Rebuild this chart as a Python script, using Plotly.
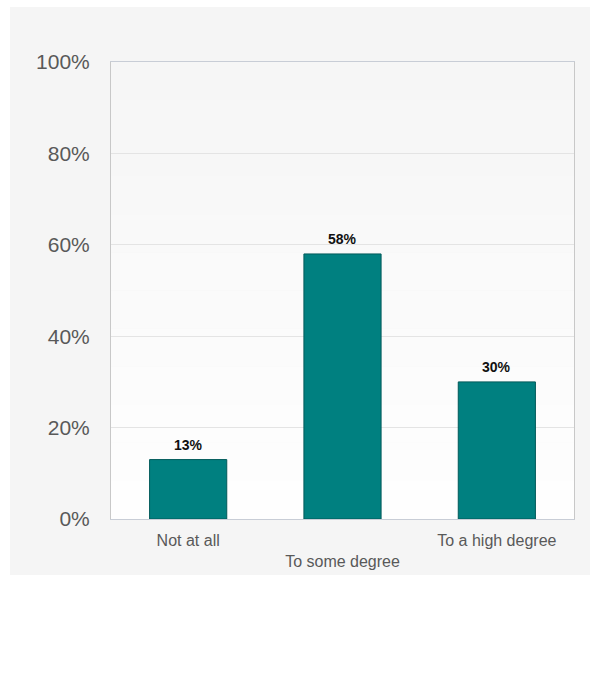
import plotly.graph_objects as go

categories = ["Not at all", "To some degree", "To a high degree"]
tick_labels = ["Not at all", "<br>To some degree", "To a high degree"]
values = [13, 58, 30]
value_labels = ["13%", "58%", "30%"]
y_ticks = [0, 20, 40, 60, 80, 100]
y_tick_labels = ["0%", "20%", "40%", "60%", "80%", "100%"]

W, H = 590, 675
L, R, T, B = 111, 16, 62, 156
pw, ph = W - L - R, H - T - B

shapes = [dict(type="rect", xref="paper", yref="paper",
               x0=-101 / pw, x1=1 + 20 / pw, y0=-56 / ph, y1=1 + 55 / ph,
               fillcolor="#f5f5f5", line=dict(width=0), layer="below")]
# soft vertical gradient inside plot area
n = 12
for i in range(n):
    t = i / (n - 1)
    c = int(round(0xf6 + (0xfe - 0xf6) * t))
    shapes.append(dict(type="rect", xref="paper", yref="paper",
                       x0=0, x1=1, y0=1 - (i + 1) / n, y1=1 - i / n,
                       fillcolor=f"rgb({c},{c},{c})", line=dict(width=0), layer="below"))

fig = go.Figure()
fig.add_trace(go.Bar(
    x=categories, y=values,
    marker=dict(color="#008080", line=dict(color="#005a5a", width=1)),
    hoverinfo="skip",
))

annotations = [dict(x=c, y=v, xref="x", yref="y", text=f"<b>{lab}</b>",
                    showarrow=False, yanchor="bottom", yshift=5,
                    font=dict(family="Liberation Sans, Arial, sans-serif", size=14, color="#111111"))
               for c, v, lab in zip(categories, values, value_labels)]

fig.update_layout(
    width=W, height=H,
    margin=dict(l=L, r=R, t=T, b=B),
    paper_bgcolor="white",
    plot_bgcolor="rgba(0,0,0,0)",
    bargap=0.5,
    showlegend=False,
    font=dict(family="Liberation Sans, Arial, sans-serif", color="#595959"),
    shapes=shapes,
    annotations=annotations,
)
fig.update_xaxes(
    tickmode="array", tickvals=categories, ticktext=tick_labels,
    tickfont=dict(size=16, color="#595959"),
    showline=True, linecolor="#c8cdd6", linewidth=1, mirror=True,
    showgrid=False, ticks="", ticklabelstandoff=7,
)
fig.update_yaxes(
    range=[0, 100], tickmode="array", tickvals=y_ticks, ticktext=y_tick_labels,
    tickfont=dict(size=21, color="#595959"),
    showline=True, linecolor="#c8c8c8", linewidth=1, mirror=True,
    showgrid=True, gridcolor="#e4e4e4", gridwidth=1,
    zeroline=False, ticks="", ticklabelstandoff=16,
)

fig.write_html("out.html", config={"displayModeBar": False},
               post_script="document.body.style.margin='0';")
